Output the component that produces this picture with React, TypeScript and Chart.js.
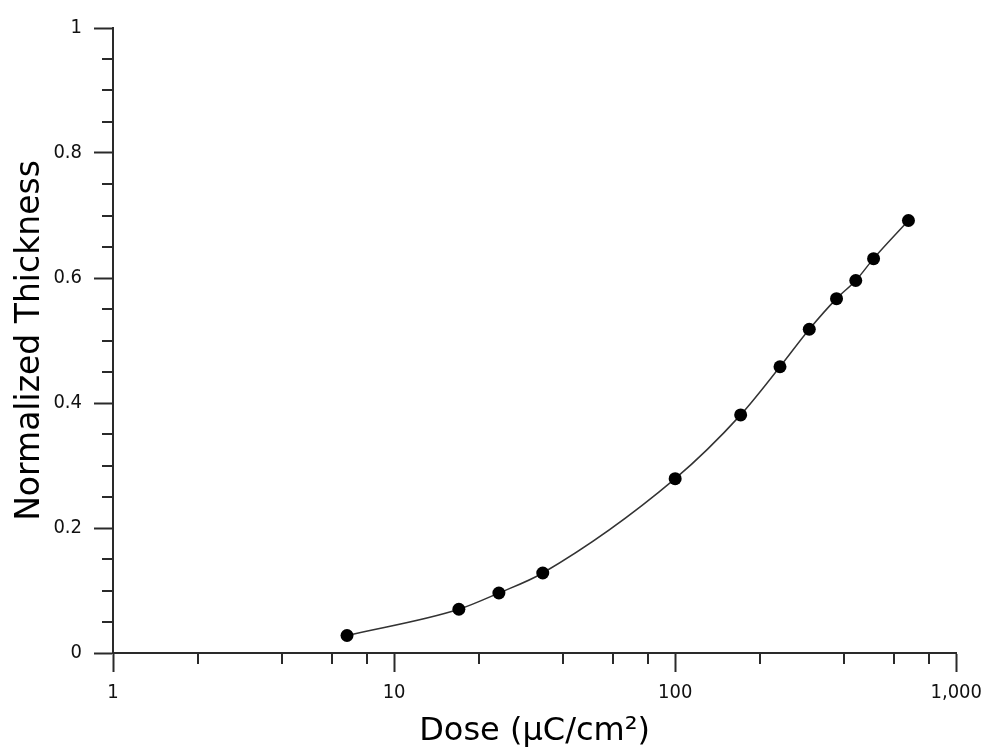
import React, { useEffect, useRef } from "react";
import { Chart, registerables } from "chart.js";

Chart.register(...registerables);

// Exposure dose (µC/cm²) and the remaining normalized resist thickness
const doses = [6.8, 17, 23.6, 33.8, 100, 171, 236, 300, 375, 439, 508, 676];
const thickness = [0.028, 0.07, 0.096, 0.128, 0.279, 0.381, 0.458, 0.518, 0.567, 0.596, 0.631, 0.692];

// Axis ticks
const xMajorTicks = [1, 10, 100, 1000];
const xMinorSteps = [2, 4, 6, 8];
const yMajorTicks = [0, 0.2, 0.4, 0.6, 0.8, 1];
const yMinorTicks = [0.05, 0.1, 0.15, 0.25, 0.3, 0.35, 0.45, 0.5, 0.55, 0.65, 0.7, 0.75, 0.85, 0.9, 0.95];

const AXIS_COLOR = "#2a2a2a";
const MAJOR_LEN = 19;
const MINOR_LEN = 11;
const TICK_FONT = "'DejaVu Sans Condensed', 'DejaVu Sans', sans-serif";
const TITLE_FONT = "'DejaVu Sans', Verdana, sans-serif";

// Draws the short minor ticks (major ticks come from the scale's grid)
const minorTicks = {
  id: "minorTicks",
  afterDraw(chart: any) {
    const { ctx } = chart;
    const xs = chart.scales.x;
    const ys = chart.scales.y;
    ctx.save();
    ctx.strokeStyle = AXIS_COLOR;
    ctx.lineWidth = 2;
    ctx.beginPath();
    xs.ticks.forEach((t: any) => {
      if (t.major) return;
      const px = Math.round(xs.getPixelForValue(t.value));
      ctx.moveTo(px, xs.top);
      ctx.lineTo(px, xs.top + MINOR_LEN);
    });
    ys.ticks.forEach((t: any) => {
      if (t.major) return;
      const py = Math.round(ys.getPixelForValue(t.value));
      ctx.moveTo(ys.right, py);
      ctx.lineTo(ys.right - MINOR_LEN, py);
    });
    ctx.stroke();
    ctx.restore();
  },
};

export default function App() {
  const canvasRef = useRef<HTMLCanvasElement | null>(null);

  useEffect(() => {
    if (!canvasRef.current) return;
    const points = doses.map((d, i) => ({ x: d, y: thickness[i] }));

    const xTicks: { value: number; major: boolean }[] = [];
    xMajorTicks.forEach((m, i) => {
      xTicks.push({ value: m, major: true });
      if (i < xMajorTicks.length - 1) {
        xMinorSteps.forEach((s) => xTicks.push({ value: m * s, major: false }));
      }
    });
    const yTicks = [
      ...yMajorTicks.map((v) => ({ value: v, major: true })),
      ...yMinorTicks.map((v) => ({ value: v, major: false })),
    ].sort((a, b) => a.value - b.value);

    const chart = new Chart(canvasRef.current, {
      type: "scatter",
      data: {
        datasets: [
          {
            data: points,
            showLine: true,
            borderColor: "#333333",
            borderWidth: 1.5,
            cubicInterpolationMode: "monotone",
            pointRadius: 6.5,
            pointBackgroundColor: "#000000",
            pointBorderColor: "#000000",
            pointBorderWidth: 0,
          },
        ],
      },
      plugins: [minorTicks],
      options: {
        responsive: false,
        animation: false,
        layout: { padding: { top: 28, right: 32, left: 0, bottom: 0 } },
        plugins: {
          legend: { display: false },
          tooltip: { enabled: false },
        },
        scales: {
          x: {
            type: "logarithmic",
            min: 1,
            max: 1000,
            afterBuildTicks: (scale: any) => {
              scale.ticks = xTicks.map((t) => ({ ...t }));
            },
            afterFit: (scale: any) => {
              scale.height = 101;
            },
            border: { display: true, color: AXIS_COLOR, width: 2 },
            grid: {
              drawOnChartArea: false,
              drawTicks: true,
              tickLength: MAJOR_LEN,
              tickWidth: 2,
              tickColor: (ctx: any) => (ctx.tick && ctx.tick.major ? AXIS_COLOR : "rgba(0,0,0,0)"),
            },
            ticks: {
              autoSkip: false,
              maxRotation: 0,
              padding: 9,
              color: "#111111",
              font: { family: TICK_FONT, size: 20 },
              callback: (v: any) => (xMajorTicks.includes(Number(v)) ? Number(v).toLocaleString("en-US") : ""),
            },
            title: {
              display: true,
              text: "Dose (μC/cm²)",
              color: "#000000",
              font: { family: TITLE_FONT, size: 32 },
              padding: { top: 0, bottom: 3 },
            },
          },
          y: {
            type: "linear",
            min: 0,
            max: 1,
            afterBuildTicks: (scale: any) => {
              scale.ticks = yTicks.map((t) => ({ ...t }));
            },
            afterFit: (scale: any) => {
              scale.width = 113;
            },
            border: { display: true, color: AXIS_COLOR, width: 2 },
            grid: {
              drawOnChartArea: false,
              drawTicks: true,
              tickLength: MAJOR_LEN,
              tickWidth: 2,
              tickColor: (ctx: any) => (ctx.tick && ctx.tick.major ? AXIS_COLOR : "rgba(0,0,0,0)"),
            },
            ticks: {
              autoSkip: false,
              padding: 12,
              color: "#111111",
              font: { family: TICK_FONT, size: 20 },
              callback: (v: any) => (yMajorTicks.includes(Number(v)) ? String(v) : ""),
            },
            title: {
              display: true,
              text: "Normalized Thickness",
              color: "#000000",
              font: { family: TITLE_FONT, size: 33 },
              padding: { top: 11, bottom: 0 },
            },
          },
        },
      },
    });
    return () => chart.destroy();
  }, []);

  return (
    <div style={{ position: "fixed", left: 0, top: 0, width: 991, height: 754, background: "#ffffff" }}>
      <canvas ref={canvasRef} width={991} height={754} />
    </div>
  );
}
